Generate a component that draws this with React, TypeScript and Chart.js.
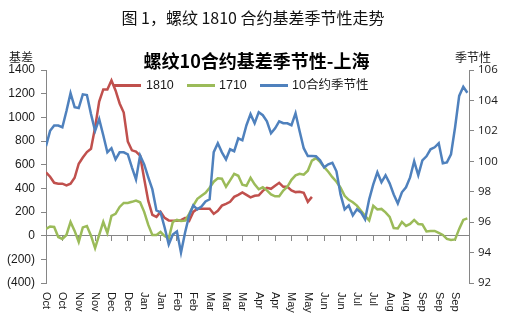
import React, { useEffect, useRef } from "react";
import { Chart, registerables } from "chart.js";

Chart.register(...registerables);

// ---- data ----
const monthLabels = [
  "Oct", "Oct", "Nov", "Nov", "Dec", "Dec", "Jan", "Jan", "Feb", "Feb",
  "Mar", "Mar", "Mar", "Apr", "Apr", "May", "May", "Jun", "Jun", "Jul",
  "Jul", "Aug", "Aug", "Sep", "Sep", "Sep",
];
const pointsPerLabel = 4;
const xMax = 103.4;

const basis1810 = [
  535, 498, 447, 439, 439, 424, 439, 489, 608, 661, 707, 735, 914, 1134, 1236,
  1236, 1312, 1227, 1117, 1041, 795, 721, 710, 676, 481, 294, 176, 159, 201,
  150, 129, 127, 127, 131, 150, 125, 201, 227, 227, 227, 227, 184, 210, 254,
  269, 286, 328, 345, 366, 345, 324, 337, 341, 379, 405, 396, 422, 447, 413,
  413, 383, 368, 371, 362, 286, 328,
];

const basis1710 = [
  57, 78, 74, -11, -28, 6, 116, 40, -53, 70, 82, 0, -105, 6, 116, 23, 167, 184,
  243, 277, 277, 286, 297, 282, 201, 91, 6, 6, 31, -3, -24, 116, 133, 125, 127,
  184, 254, 311, 337, 362, 405, 456, 485, 481, 413, 467, 523, 506, 430, 422,
  489, 434, 392, 409, 383, 349, 333, 333, 382, 413, 472, 509, 522, 515, 549,
  634, 655, 623, 579, 540, 494, 456, 405, 337, 303, 283, 254, 210, 167, 129,
  252, 222, 226, 197, 159, 65, 61, 116, 82, 99, 133, 99, 95, 36, 40, 40, 23, 6,
  -28, -36, -32, 57, 133, 146,
];

const seasonal10 = [
  101.0, 102.0, 102.35, 102.35, 102.24, 103.3, 104.48, 103.56, 103.5, 104.4,
  104.35, 103.1, 102.0, 102.77, 101.71, 100.59, 100.86, 100.13, 100.59, 100.59,
  100.46, 99.6, 98.81, 100.39, 99.8, 98.95, 98.15, 96.77, 96.64, 95.65, 94.53,
  95.19, 95.39, 94.0, 95.32, 96.44, 97.1, 96.84, 97.03, 97.36, 97.5, 100.6,
  101.18, 100.59, 100.13, 100.79, 100.66, 101.51, 101.38, 102.37, 103.1, 102.5,
  103.23, 103.03, 102.63, 101.84, 102.17, 102.63, 102.5, 102.5, 102.37, 103.16,
  101.98, 100.86, 100.35, 100.35, 100.33, 100.06, 99.6, 99.8, 99.9, 99.34,
  97.82, 96.84, 97.1, 96.44, 96.84, 96.64, 96.18, 97.5, 98.48, 99.27, 98.62,
  99.08, 98.55, 97.82, 97.23, 97.96, 98.29, 98.94, 100.0, 99.08, 100.06, 100.33,
  100.79, 100.92, 101.18, 99.87, 99.93, 100.46, 102.24, 104.3, 104.9, 104.5,
];

const leftMin = -400;
const leftMax = 1400;
const leftStep = 200;
const rightMin = 92;
const rightMax = 106;
const rightStep = 2;

const RED = "#C0504D";
const GREEN = "#9BBB59";
const BLUE = "#4F81BD";
const AXIS = "#868686";

const toPoints = (arr: number[]) => arr.map((v, i) => ({ x: i, y: v }));

const xLabelPlugin = {
  id: "xLabelsLow",
  afterDraw(chart: any) {
    const xs = chart.scales.x;
    const ctx = chart.ctx;
    const top = chart.chartArea.bottom + 9;
    ctx.save();
    ctx.font = "11px 'Liberation Sans', Arial, sans-serif";
    ctx.fillStyle = "#1a1a1a";
    ctx.textAlign = "left";
    ctx.textBaseline = "middle";
    xs.ticks.forEach((t: any) => {
      const k = Math.round(t.value / pointsPerLabel);
      const label = monthLabels[k];
      if (!label) return;
      const px = xs.getPixelForValue(t.value);
      ctx.save();
      ctx.translate(px, top);
      ctx.rotate(Math.PI / 2);
      ctx.fillText(label, 0, 0);
      ctx.restore();
    });
    ctx.restore();
  },
};

export default function App() {
  const ref = useRef<HTMLCanvasElement>(null);

  useEffect(() => {
    if (!ref.current) return;
    const chart = new Chart(ref.current, {
      type: "line",
      data: {
        datasets: [
          {
            label: "1810",
            data: toPoints(basis1810),
            borderColor: RED,
            backgroundColor: RED,
            borderWidth: 2.5,
            pointRadius: 0,
            tension: 0,
            yAxisID: "y",
            order: 2,
          },
          {
            label: "1710",
            data: toPoints(basis1710),
            borderColor: GREEN,
            backgroundColor: GREEN,
            borderWidth: 2.5,
            pointRadius: 0,
            tension: 0,
            yAxisID: "y",
            order: 1,
          },
          {
            label: "10合约季节性",
            data: toPoints(seasonal10),
            borderColor: BLUE,
            backgroundColor: BLUE,
            borderWidth: 2.5,
            pointRadius: 0,
            tension: 0,
            yAxisID: "y1",
            order: 0,
          },
        ],
      },
      options: {
        responsive: false,
        animation: false,
        devicePixelRatio: 1,
        layout: { padding: { top: 70, bottom: 50, left: 0, right: 0 } },
        plugins: {
          legend: { display: false },
          title: { display: false },
          tooltip: { enabled: false },
        },
        scales: {
          x: {
            type: "linear",
            position: { y: 0 } as any,
            min: 0,
            max: xMax,
            ticks: { display: false, stepSize: pointsPerLabel, includeBounds: false },
            grid: { drawOnChartArea: false, drawTicks: true, tickLength: 5, color: AXIS },
            border: { color: AXIS },
          },
          y: {
            position: "left",
            min: leftMin,
            max: leftMax,
            ticks: {
              stepSize: leftStep,
              padding: 6,
              color: "#1a1a1a",
              font: { family: "'Liberation Sans', Arial, sans-serif", size: 12 },
              callback: (v: any) => (Number(v) < 0 ? `(${-Number(v)})` : `${v}`),
            },
            grid: { drawOnChartArea: false, drawTicks: true, tickLength: 5, color: AXIS },
            border: { color: AXIS },
            afterFit: (s: any) => {
              s.width = 46;
            },
          },
          y1: {
            position: "right",
            min: rightMin,
            max: rightMax,
            ticks: {
              stepSize: rightStep,
              padding: 4,
              color: "#1a1a1a",
              font: { family: "'Open Sans', sans-serif", size: 11.5 },
            },
            grid: { drawOnChartArea: false, drawTicks: true, tickLength: 5, color: AXIS },
            border: { color: AXIS },
            afterFit: (s: any) => {
              s.width = 37;
            },
          },
        },
      } as any,
      plugins: [xLabelPlugin],
    });
    return () => chart.destroy();
  }, []);

  const cjk = "'Noto Sans CJK SC', 'Liberation Sans', sans-serif";
  const legendFont = "'Liberation Sans', 'Noto Sans CJK SC', sans-serif";
  const abs: React.CSSProperties = { position: "absolute", whiteSpace: "nowrap" };

  return (
    <div
      style={{
        position: "fixed",
        left: 0,
        top: 0,
        width: 506,
        height: 333,
        background: "#fff",
        overflow: "hidden",
      }}
    >
      <canvas
        ref={ref}
        width={506}
        height={333}
        style={{ position: "absolute", left: 0, top: 0, width: 506, height: 333 }}
      />
      <div
        style={{
          ...abs,
          left: 0,
          width: 506,
          top: 9,
          textAlign: "center",
          fontFamily: cjk,
          fontSize: 16,
          lineHeight: "17px",
          color: "#111",
        }}
      >
        图 1，螺纹 1810 合约基差季节性走势
      </div>
      <div
        style={{
          ...abs,
          left: 0,
          width: 513,
          top: 50,
          textAlign: "center",
          fontFamily: cjk,
          fontWeight: "bold",
          fontSize: 18,
          lineHeight: "20px",
          color: "#000",
        }}
      >
        螺纹10合约基差季节性-上海
      </div>
      <div style={{ ...abs, left: 9, top: 50, fontFamily: cjk, fontSize: 12, lineHeight: "14px", color: "#1a1a1a" }}>
        基差
      </div>
      <div style={{ ...abs, left: 455, top: 50, fontFamily: cjk, fontSize: 12, lineHeight: "14px", color: "#1a1a1a" }}>
        季节性
      </div>
      {/* legend */}
      <div style={{ ...abs, left: 113, top: 84, width: 28, height: 3, background: RED }} />
      <div style={{ ...abs, left: 146, top: 78, fontFamily: legendFont, fontSize: 12.5, lineHeight: "15px", color: "#1a1a1a" }}>
        1810
      </div>
      <div style={{ ...abs, left: 187, top: 84, width: 28, height: 3, background: GREEN }} />
      <div style={{ ...abs, left: 219, top: 78, fontFamily: legendFont, fontSize: 12.5, lineHeight: "15px", color: "#1a1a1a" }}>
        1710
      </div>
      <div style={{ ...abs, left: 260, top: 84, width: 28, height: 3, background: BLUE }} />
      <div style={{ ...abs, left: 292, top: 78, fontFamily: legendFont, fontSize: 12.5, lineHeight: "15px", color: "#1a1a1a" }}>
        10合约季节性
      </div>
    </div>
  );
}
